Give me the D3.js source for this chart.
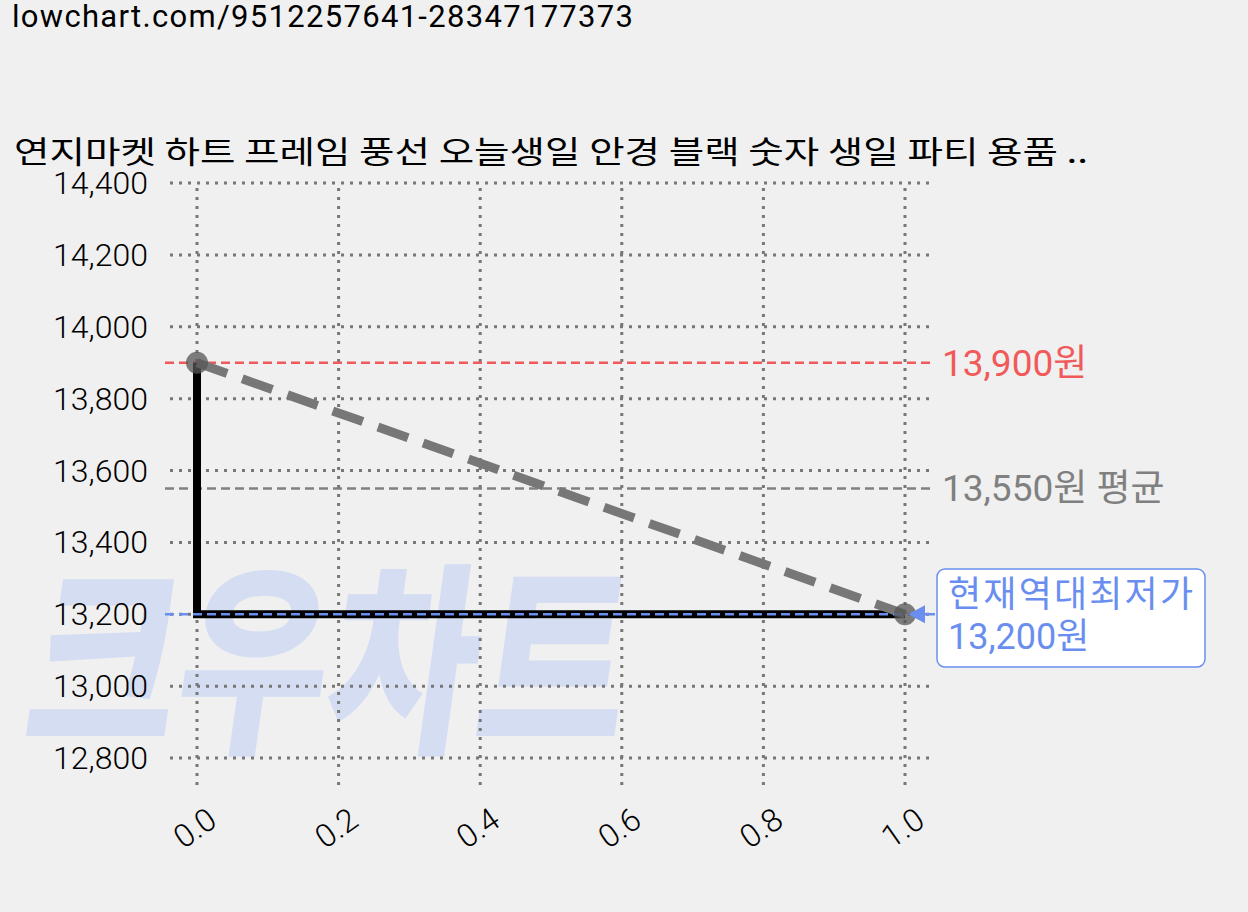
<!DOCTYPE html><html><head><meta charset="utf-8"><script src="https://cdn.jsdelivr.net/npm/d3@7"></script>
<style>body{margin:0;background:#f0f0f0}svg{display:block}</style></head><body><svg id="c" width="1248" height="912"></svg>
<script>
const xs=[0,1];
const prices=[13900,13200];
const yTicks=[12800,13000,13200,13400,13600,13800,14000,14200,14400];
const xTicks=[0,0.2,0.4,0.6,0.8,1.0];
const maxPrice=13900, avgPrice=13550, minPrice=13200;
const title="연지마켓 하트 프레임 풍선 오늘생일 안경 블랙 숫자 생일 파티 용품 ..";
const url="lowchart.com/9512257641-28347177373";
const svg=d3.select("#c");
const x=d3.scaleLinear().domain([0,1]).range([197,905]);
const y=d3.scaleLinear().domain([12800,14400]).range([758,183]);
const F="Roboto, 'Noto Sans CJK KR', sans-serif";
svg.append("text").attr("transform","translate(20,737) skewX(-8)").attr("font-family","'Noto Sans CJK KR'").attr("font-weight",900).attr("font-size",205).attr("fill","#d4ddf2").attr("textLength",600).attr("lengthAdjust","spacingAndGlyphs").text("크우차트");
svg.append("text").attr("x",12).attr("y",27).attr("font-family",F).attr("font-size",31).attr("fill","#000").attr("textLength",621).text(url);
svg.append("text").attr("x",14).attr("y",163).attr("font-family","'Noto Sans CJK KR'").attr("font-size",31).attr("fill","#000").attr("textLength",1074).attr("lengthAdjust","spacingAndGlyphs").text(title);
const g=svg.append("g");
yTicks.forEach(t=>{g.append("line").attr("x1",170).attr("x2",935).attr("y1",y(t)).attr("y2",y(t)).attr("stroke","#777").attr("stroke-width",3).attr("stroke-dasharray","3,6");
g.append("text").attr("x",148).attr("y",y(t)+11).attr("text-anchor","end").attr("font-family",F).attr("font-weight",300).attr("font-size",32).text(d3.format(",")(t));});
xTicks.forEach(t=>{g.append("line").attr("x1",x(t)).attr("x2",x(t)).attr("y1",188).attr("y2",785).attr("stroke","#777").attr("stroke-width",3).attr("stroke-dasharray","3,6");
g.append("text").attr("transform",`translate(${x(t)+8},${805}) rotate(-35)`).attr("text-anchor","end").attr("dy","0.75em").attr("font-family",F).attr("font-weight",300).attr("font-size",32).text(t.toFixed(1));});
const hl=(v,c,x2)=>g.append("line").attr("x1",165).attr("x2",x2).attr("y1",y(v)).attr("y2",y(v)).attr("stroke",c).attr("stroke-width",2.5).attr("stroke-dasharray","9,5");
hl(maxPrice,"#f05a5a",935);hl(avgPrice,"#808080",935);
svg.append("text").attr("x",942).attr("y",y(maxPrice)+13).attr("font-family",F).attr("font-size",37).attr("fill","#f05a5a").text("13,900원");
svg.append("text").attr("x",942).attr("y",y(avgPrice)+13).attr("font-family",F).attr("font-size",37).attr("fill","#808080").text("13,550원 평균");
const data=xs.map((d,i)=>[d,prices[i]]);
g.append("path").attr("d",d3.line().x(d=>x(d[0])).y(d=>y(d[1])).curve(d3.curveStepBefore)(data)).attr("fill","none").attr("stroke","#000").attr("stroke-width",8);
g.append("path").attr("d",d3.line().x(d=>x(d[0])).y(d=>y(d[1]))(data)).attr("fill","none").attr("stroke","#777").attr("stroke-width",9).attr("stroke-dasharray","32,16");
g.append("line").attr("x1",165).attr("x2",905).attr("y1",y(minPrice)).attr("y2",y(minPrice)).attr("stroke","#6a8ef0").attr("stroke-width",2.5).attr("stroke-dasharray","9,5");
data.forEach(d=>g.append("circle").attr("cx",x(d[0])).attr("cy",y(d[1])).attr("r",11).attr("fill","#555").attr("opacity",0.75));
g.append("line").attr("x1",935).attr("x2",920).attr("y1",y(minPrice)).attr("y2",y(minPrice)).attr("stroke","#6a8ef0").attr("stroke-width",2.5);
g.append("path").attr("d",`M908,${y(minPrice)} l17,-9 v18 z`).attr("fill","#6a8ef0");
svg.append("rect").attr("x",937).attr("y",569).attr("width",268).attr("height",98).attr("rx",8).attr("fill","#fff").attr("stroke","#6a8ef0").attr("stroke-width",1.5);
svg.append("text").attr("x",948).attr("y",607).attr("font-family",F).attr("font-size",36).attr("fill","#6a8ef0").attr("textLength",245).text("현재역대최저가");
svg.append("text").attr("x",948).attr("y",649).attr("font-family",F).attr("font-size",36).attr("fill","#6a8ef0").text("13,200원");
</script></body></html>
